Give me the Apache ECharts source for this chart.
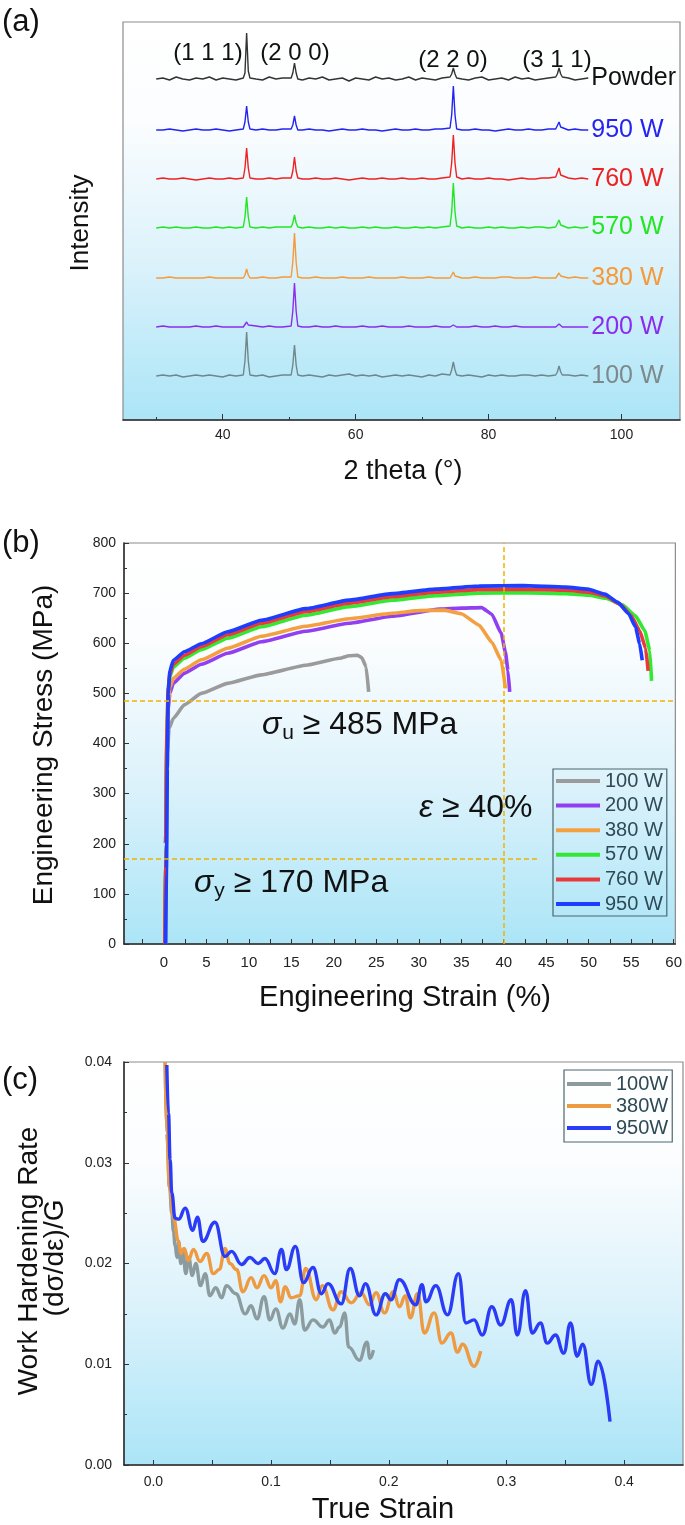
<!DOCTYPE html>
<html>
<head>
<meta charset="utf-8">
<script src="https://cdn.jsdelivr.net/npm/echarts@6/dist/echarts.min.js"></script>
<style>html,body{margin:0;padding:0;background:#fff}#c{width:685px;height:1525px}</style>
</head>
<body>
<div id="c"></div>
<script>
// ---------- (a) XRD ----------
const twoTheta = [30,31,32,33,34,35,36,37,38,39,40,41,42,
  43.1,43.35,43.6,43.85,44.1,
  45,46,47,48,49,
  50.3,50.55,50.8,51.05,51.3,
  52,53,54,55,56,57,58,59,60,61,62,63,64,65,66,67,68,69,70,71,72,73,
  74.2,74.45,74.7,74.95,75.2,
  76,77,78,79,80,81,82,83,84,85,86,87,88,89,
  90.1,90.35,90.6,90.85,91.1,
  92,93,94,95];
const xrdNames = ['Powder','950 W','760 W','570 W','380 W','200 W','100 W'];
const xrdOffsets = [341,290,241,192,142,93,44];
const xrdPowder = [0,1,-1,2,0,-1,1,0,2,-1,1,0,-1, 1,6,46,8,1, 0,-1,2,0,1, 1,6,16,6,0,
  -1,1,0,2,-1,0,1,-2,1,0,-1,2,0,1,-1,0,2,-1,1,0,-1,1, 2,5,11,5,1,
  0,-1,1,2,-1,0,1,-1,2,0,1,-1,0,1, 2,5,11,5,2, 1,-1,0,1];
const xrd950 = [0,0,1,0,-1,0,1,0,0,1,0,-1,0, 1,8,24,8,1, 0,1,0,0,1, 1,5,14,5,0,
  0,1,0,0,-1,0,1,0,0,1,0,0,-1,0,1,0,0,1,0,0,1,1, 2,15,44,15,1,
  0,0,1,0,0,-1,0,1,0,0,1,0,0,1, 1,3,8,3,1, 0,1,0,0];
const xrd760 = [0,1,0,0,1,0,-1,0,1,0,0,1,0, 1,11,31,11,1, 0,0,1,0,1, 1,8,22,8,1,
  0,0,1,0,0,1,0,-1,0,1,0,0,1,0,0,1,0,0,1,0,0,1, 2,16,44,16,2,
  0,1,0,0,1,0,0,-1,0,1,0,0,1,1, 2,4,11,4,2, 1,0,1,0];
const xrd570 = [0,1,0,1,0,0,1,0,0,1,0,1,0, 1,11,31,11,1, 0,1,0,1,1, 1,5,13,5,1,
  0,1,0,0,1,0,1,0,0,1,0,1,0,0,1,0,0,1,0,1,0,1, 2,16,45,16,2,
  0,1,0,0,1,0,1,0,0,1,0,1,1,0, 1,3,8,3,1, 0,1,0,1];
const xrd380 = [0,0,1,0,0,0,0,0,1,0,0,0,0, 0,3,9,3,0, 0,1,0,0,1, 1,16,45,16,1,
  0,0,1,0,0,0,1,0,0,0,1,0,0,0,0,1,0,0,0,1,0,0, 0,2,6,2,0,
  0,0,1,0,0,0,1,1,0,0,0,1,0,0, 0,2,5,2,0, 0,1,0,0];
const xrd200 = [0,1,0,0,0,0,1,0,0,1,0,0,0, 0,2,5,2,0, 1,0,1,0,0, 1,16,44,16,1,
  0,0,1,0,0,1,0,0,0,1,0,0,1,0,0,0,1,0,0,0,1,0, 0,1,2,1,0,
  0,0,1,0,0,1,0,0,1,0,0,0,0,0, 0,1,3,1,0, 0,0,0,0];
const xrd100 = [0,1,0,1,-1,0,1,0,1,0,-1,1,0, 1,15,44,15,1, 0,1,-1,0,1, 1,11,31,11,1,
  0,1,0,-1,1,0,1,2,0,1,0,1,-1,0,1,0,1,0,-1,1,0,2, 1,6,14,6,1,
  0,1,0,-1,1,0,1,0,0,1,1,0,1,0, 1,4,10,4,1, 1,0,1,0];
const xrdValues = [xrdPowder, xrd950, xrd760, xrd570, xrd380, xrd200, xrd100];
const xrdColors = ['#333333','#2424f2','#ee2222','#22e622','#f49a3a','#8a2cf0','#6f878b'];
const xrdLabelColors = ['#111111','#2424f2','#ee2222','#22e622','#f49a3a','#8a2cf0','#7d898b'];
const peakLabels = ['(1 1 1)','(2 0 0)','(2 2 0)','(3 1 1)'];
const xrdTickLabels = [40,60,80,100];
const xrdMinorTicks = [30,50,70,90];

// ---------- (b) stress-strain ----------
const ssNames = ['100 W','200 W','380 W','570 W','760 W','950 W'];
const ssColors = ['#9b9b9b','#9040f2','#f5a040','#33e833','#e83a3a','#1d3dff'];
const ss100 = [[0.2,0],[0.3,200],[0.4,380],[0.6,430],[1.1,450],[2.4,477],[4.4,500],[7.5,520],[11.5,537],[16.7,556],[20.7,570],[21.8,575],[22.8,576],[23.3,571],[23.8,553],[24.1,503]];
const ss200 = [[0.1,0],[0.2,200],[0.35,400],[0.5,470],[0.7,500],[1.1,520],[2.4,540],[4.4,558],[7.5,580],[11.5,603],[16.7,624],[21.8,640],[26.9,654],[32.5,668],[35,670],[37.4,671],[38.6,658],[39.7,620],[40.2,582],[40.5,545],[40.7,503]];
const ss380 = [[0.1,0],[0.2,200],[0.35,400],[0.5,480],[0.7,512],[1.1,530],[2.4,548],[4.4,567],[7.5,590],[11.5,614],[16.7,634],[21.8,649],[26.9,660],[30,665],[33,666],[35,659],[37.1,636],[38.6,602],[39.7,566],[40.2,510]];
const ss570 = [[0.1,0],[0.2,200],[0.35,420],[0.5,505],[0.7,533],[1.1,552],[2.4,570],[4.4,587],[7.5,610],[11.5,633],[16.7,656],[21.8,673],[26.9,686],[32,695],[37.1,700],[42.2,701],[47.3,699],[50,696],[52,690],[54,676],[55.5,655],[56.6,625],[57.2,585],[57.4,525]];
const ss760 = [[0.1,0],[0.2,200],[0.35,420],[0.5,510],[0.7,538],[1.1,558],[2.4,576],[4.4,593],[7.5,617],[11.5,640],[16.7,663],[21.8,680],[26.9,693],[32,702],[37.1,707],[42.2,708],[47.3,706],[50,702],[52,694],[53.7,678],[55,655],[56,625],[56.7,590],[57,545]];
const ss950 = [[0.2,0],[0.3,150],[0.4,350],[0.5,500],[0.7,545],[1.1,566],[2.4,583],[4.4,599],[7.5,623],[11.5,646],[16.7,669],[21.8,686],[26.9,699],[32,708],[37.1,714],[42.2,715],[47.3,712],[49.9,708],[51.9,698],[53.4,682],[54.7,659],[55.5,633],[56,599],[56.3,566]];
const ssData = [ss100, ss200, ss380, ss570, ss760, ss950];
const ssTickLabels = [0,5,10,15,20,25,30,35,40,45,50,55,60];
const ssTicks = [-2.5,0,2.5,5,7.5,10,12.5,15,17.5,20,22.5,25,27.5,30,32.5,35,37.5,40,42.5,45,47.5,50,52.5,55,57.5,60];
const limitUTS = 485, limitYS = 170, limitElong = 40;

// ---------- (c) work hardening ----------
const whNames = ['100W','380W','950W'];
const whColors = ['#8c9b9e','#ee9a42','#2b3cf6'];
const wh100 = [[0.0100,0.0400],[0.0114,0.0329],[0.0137,0.0276],[0.0156,0.0250],[0.0170,0.0232],[0.0184,0.0218],[0.0200,0.0206],[0.0215,0.0222],[0.0232,0.0200],[0.0250,0.0213],[0.0275,0.0190],[0.0300,0.0206],[0.0330,0.0188],[0.0360,0.0200],[0.0400,0.0178],[0.0440,0.0190],[0.0480,0.0168],[0.0530,0.0176],[0.0580,0.0166],[0.0620,0.0178],[0.0700,0.0170],[0.0780,0.0150],[0.0830,0.0158],[0.0880,0.0145],[0.0940,0.0167],[0.0990,0.0144],[0.1040,0.0155],[0.1100,0.0136],[0.1160,0.0150],[0.1200,0.0140],[0.1243,0.0164],[0.1285,0.0134],[0.1356,0.0144],[0.1440,0.0137],[0.1497,0.0144],[0.1540,0.0131],[0.1582,0.0137],[0.1625,0.0151],[0.1660,0.0117],[0.1750,0.0104],[0.1815,0.0122],[0.1840,0.0106],[0.1870,0.0114]];
const wh380 = [[0.0100,0.0400],[0.0114,0.0329],[0.0137,0.0276],[0.0170,0.0246],[0.0213,0.0222],[0.0233,0.0210],[0.0261,0.0215],[0.0297,0.0203],[0.0340,0.0214],[0.0396,0.0202],[0.0453,0.0210],[0.0509,0.0190],[0.0560,0.0194],[0.0608,0.0215],[0.0650,0.0200],[0.0707,0.0194],[0.0760,0.0172],[0.0830,0.0186],[0.0880,0.0176],[0.0940,0.0188],[0.1000,0.0176],[0.1040,0.0183],[0.1080,0.0162],[0.1120,0.0177],[0.1170,0.0166],[0.1243,0.0168],[0.1294,0.0195],[0.1384,0.0164],[0.1435,0.0178],[0.1525,0.0154],[0.1596,0.0172],[0.1681,0.0161],[0.1765,0.0171],[0.1836,0.0159],[0.1892,0.0171],[0.1963,0.0151],[0.2039,0.0172],[0.2090,0.0157],[0.2141,0.0168],[0.2183,0.0146],[0.2245,0.0170],[0.2302,0.0131],[0.2386,0.0151],[0.2451,0.0121],[0.2528,0.0131],[0.2584,0.0112],[0.2626,0.0120],[0.2725,0.0098],[0.2781,0.0113]];
const wh950 = [[0.0114,0.0397],[0.0128,0.0349],[0.0142,0.0303],[0.0156,0.0270],[0.0184,0.0245],[0.0215,0.0244],[0.0270,0.0255],[0.0334,0.0233],[0.0374,0.0246],[0.0419,0.0222],[0.0523,0.0241],[0.0608,0.0207],[0.0664,0.0212],[0.0749,0.0199],[0.0820,0.0206],[0.0890,0.0200],[0.0947,0.0205],[0.1031,0.0190],[0.1088,0.0214],[0.1130,0.0194],[0.1206,0.0217],[0.1275,0.0181],[0.1356,0.0196],[0.1427,0.0170],[0.1483,0.0180],[0.1596,0.0160],[0.1672,0.0195],[0.1751,0.0168],[0.1802,0.0180],[0.1892,0.0149],[0.1971,0.0170],[0.2019,0.0164],[0.2090,0.0184],[0.2231,0.0159],[0.2282,0.0179],[0.2316,0.0162],[0.2400,0.0178],[0.2499,0.0149],[0.2592,0.0190],[0.2655,0.0141],[0.2725,0.0144],[0.2795,0.0129],[0.2875,0.0157],[0.2951,0.0139],[0.3041,0.0164],[0.3092,0.0129],[0.3162,0.0173],[0.3219,0.0131],[0.3289,0.0141],[0.3346,0.0121],[0.3417,0.0129],[0.3487,0.0111],[0.3544,0.0141],[0.3600,0.0108],[0.3648,0.0120],[0.3720,0.0080],[0.3780,0.0103],[0.3880,0.0043]];
const whData = [wh100, wh380, wh950];
const whTickLabels = [0,0.1,0.2,0.3,0.4];
const whTicks = [0,0.05,0.1,0.15,0.2,0.25,0.3,0.35,0.4];

// ---------- chart ----------
const FONT = 'Liberation Sans';
const bg = {type:'linear', x:0, y:0, x2:0, y2:1, colorStops:[
  {offset:0, color:'#ffffff'},{offset:0.25, color:'#fbfdfe'},{offset:0.6, color:'#dcf2fb'},{offset:1, color:'#abe5f7'}]};
const gridBase = {show:true, backgroundColor:bg, borderColor:'#8c8c8c', borderWidth:1.2};

const chart = echarts.init(document.getElementById('c'), null, {renderer:'canvas'});

const dashStyle = {color:'#f2b200', type:[5,3], width:1.5, opacity:1};
const series = [];
xrdNames.forEach((n, k) => {
  series.push({
    name:'XRD ' + n, type:'line', xAxisIndex:0, yAxisIndex:0, showSymbol:false, silent:true,
    data: twoTheta.map((t, i) => [t, xrdValues[k][i] + xrdOffsets[k]]),
    lineStyle:{color:xrdColors[k], width:1.4}, itemStyle:{color:xrdColors[k]},
    endLabel:{show:true, formatter:n, color:xrdLabelColors[k], fontSize:25, fontFamily:FONT, distance:3}
  });
});
ssNames.forEach((n, k) => {
  const s = {
    name:n, type:'line', xAxisIndex:2, yAxisIndex:1, showSymbol:false, silent:true,
    smooth:0.15, smoothMonotone:'x', z:3,
    data: ssData[k], lineStyle:{color:ssColors[k], width:3.6}, itemStyle:{color:ssColors[k]}
  };
  series.push(s);
});
// limit lines (dashed) as their own series so they keep their colour
series.push({
  name:'limits', type:'line', xAxisIndex:2, yAxisIndex:1, data:[], silent:true, z:2,
  markLine:{
    silent:true, symbol:'none', label:{show:false}, animation:false,
    lineStyle:dashStyle, itemStyle:{color:'#f2b200'},
    data:[{yAxis:limitUTS, lineStyle:dashStyle},{xAxis:limitElong, lineStyle:dashStyle},
      [{coord:[-4.7,limitYS], lineStyle:dashStyle},{coord:[44,limitYS]}]]
  }
});
whNames.forEach((n, k) => {
  series.push({
    name:n, type:'line', xAxisIndex:3, yAxisIndex:2, showSymbol:false, silent:true,
    smooth:0.45, smoothMonotone:'x',
    data: whData[k], lineStyle:{color:whColors[k], width:3.4}, itemStyle:{color:whColors[k]}
  });
});

const axisText = {fontSize:14, color:'#222', fontFamily:FONT};
const darkLine = {onZero:false, lineStyle:{color:'#2a2a2a', width:1.5}};

function text(x, y, t, size, extra) {
  return Object.assign({type:'text', x:x, y:y, style:Object.assign({text:t, fontSize:size, fontFamily:FONT, fill:'#111', align:'center', verticalAlign:'middle'}, extra && extra.style || {})}, extra && extra.el || {});
}
const richAnn = {
  s:{fontSize:32, fontStyle:'italic', fontFamily:FONT, fill:'#111'},
  b:{fontSize:21, fontFamily:FONT, fill:'#111', padding:[16,0,0,1]},
  t:{fontSize:32, fontFamily:FONT, fill:'#111'}
};

chart.setOption({
  animation:false,
  grid:[
    Object.assign({left:123, right:5, top:22, height:398}, gridBase),
    Object.assign({left:124, right:2, top:543, height:401}, gridBase),
    Object.assign({left:124, right:2, top:1062, height:403}, gridBase)
  ],
  xAxis:[
    {gridIndex:0, type:'value', min:25, max:108.8, position:'bottom', axisLine:darkLine,
     axisTick:{inside:true, length:6, customValues:xrdTickLabels, lineStyle:{color:'#333'}},
     axisLabel:Object.assign({customValues:xrdTickLabels, margin:8}, axisText), splitLine:{show:false}},
    {gridIndex:0, type:'value', min:25, max:108.8, position:'bottom', axisLine:{show:false, onZero:false},
     axisTick:{inside:true, length:3, customValues:xrdMinorTicks, lineStyle:{color:'#333'}},
     axisLabel:{show:false}, splitLine:{show:false}},
    {gridIndex:1, type:'value', min:-4.7, max:60.2, position:'bottom', axisLine:darkLine,
     axisTick:{inside:true, length:5, customValues:ssTicks, lineStyle:{color:'#333'}},
     axisLabel:Object.assign({customValues:ssTickLabels, margin:11, fontSize:15}, {color:'#222', fontFamily:FONT}), splitLine:{show:false}},
    {gridIndex:2, type:'value', min:-0.025, max:0.45, position:'bottom', axisLine:darkLine,
     axisTick:{inside:true, length:5, customValues:whTicks, lineStyle:{color:'#333'}},
     axisLabel:Object.assign({customValues:whTickLabels, margin:10, formatter:v => v.toFixed(1)}, axisText), splitLine:{show:false}}
  ],
  yAxis:[
    {gridIndex:0, type:'value', min:0, max:398, axisLine:{show:false, onZero:false}, axisTick:{show:false}, axisLabel:{show:false}, splitLine:{show:false}},
    {gridIndex:1, type:'value', min:0, max:800, interval:100, position:'left', axisLine:Object.assign({show:true}, darkLine),
     axisTick:{inside:true, length:5, lineStyle:{color:'#333'}}, minorTick:{show:true, splitNumber:2, length:3, lineStyle:{color:'#333'}},
     axisLabel:Object.assign({margin:8}, axisText), splitLine:{show:false}},
    {gridIndex:2, type:'value', min:0, max:0.04, interval:0.01, position:'left', axisLine:Object.assign({show:true}, darkLine),
     axisTick:{inside:true, length:5, lineStyle:{color:'#333'}}, minorTick:{show:true, splitNumber:2, length:3, lineStyle:{color:'#333'}},
     axisLabel:Object.assign({margin:12, formatter:v => v.toFixed(2)}, axisText), splitLine:{show:false}}
  ],
  legend:[
    {data:ssNames, orient:'vertical', left:553, top:769, itemWidth:44, itemHeight:4, itemGap:4.6, icon:'rect',
     selectedMode:false, borderColor:'#4b676e', borderWidth:1.2, padding:[2,4,2,3],
     textStyle:{fontSize:20, color:'#2e4a54', fontFamily:FONT, lineHeight:20}},
    {data:whNames, orient:'vertical', left:564, top:1070, itemWidth:44, itemHeight:4, itemGap:2, icon:'rect',
     selectedMode:false, borderColor:'#4b676e', borderWidth:1.2, padding:[4,4,4,3],
     textStyle:{fontSize:20, color:'#2e4a54', fontFamily:FONT, lineHeight:20}}
  ],
  graphic:{elements:[
    text(2, 22, '(a)', 31, {style:{align:'left'}}),
    text(2, 543, '(b)', 31, {style:{align:'left'}}),
    text(2, 1080, '(c)', 31, {style:{align:'left'}}),
    text(208, 53, peakLabels[0], 24),
    text(295, 53, peakLabels[1], 24),
    text(453, 60, peakLabels[2], 24),
    text(557, 60, peakLabels[3], 24),
    text(81, 223, 'Intensity', 26, {el:{rotation:Math.PI/2}}),
    text(403, 472, '2 theta (°)', 27),
    text(44, 745, 'Engineering Stress (MPa)', 28, {el:{rotation:Math.PI/2}}),
    text(405, 998, 'Engineering Strain (%)', 29),
    text(29, 1261, 'Work Hardening Rate', 28, {el:{rotation:Math.PI/2}}),
    text(55, 1258, '(dσ/dε)/G', 28, {el:{rotation:Math.PI/2}}),
    text(383, 1510, 'True Strain', 29),
    {type:'text', x:262, y:725, style:{text:'{s|σ}{b|u}{t| ≥ 485 MPa}', rich:richAnn, verticalAlign:'middle', align:'left'}},
    {type:'text', x:419, y:808, style:{text:'{s|ε}{t| ≥ 40%}', rich:richAnn, verticalAlign:'middle', align:'left'}},
    {type:'text', x:194, y:883, style:{text:'{s|σ}{b|y}{t| ≥ 170 MPa}', rich:richAnn, verticalAlign:'middle', align:'left'}}
  ]},
  series:series
});
</script>
</body>
</html>
